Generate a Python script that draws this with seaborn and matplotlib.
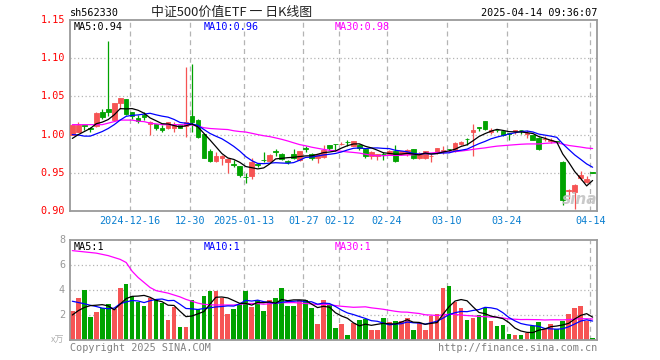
import numpy as np
import pandas as pd
import matplotlib
matplotlib.use("Agg")
import matplotlib.pyplot as plt
import seaborn as sns

# ---------------- data ----------------
holidays = ["2025-01-01", "2025-01-28", "2025-01-29", "2025-01-30", "2025-01-31",
            "2025-02-03", "2025-02-04", "2025-04-04"]
dates = [d for d in pd.bdate_range("2024-12-02", "2025-04-14")
         if d.strftime("%Y-%m-%d") not in holidays]

open_ = [1.000, 1.004, 1.012, 1.008, 1.011, 1.029, 1.033, 1.019, 1.0417, 1.046,
         1.030, 1.0215, 1.026, 1.0136, 1.0136, 1.0083, 1.0083, 1.009, 1.0127, 1.0118,
         1.025, 1.0197, 1.0013, 0.979, 0.966, 0.969, 0.9636, 0.961, 0.959, 0.945,
         0.946, 0.962, 0.967, 0.966, 0.978, 0.975, 0.965, 0.974, 0.967, 0.982,
         0.975, 0.969, 0.971, 0.9864, 0.988, 0.9875, 0.9905, 0.9855, 0.986, 0.981,
         0.9715, 0.972, 0.9745, 0.974, 0.978, 0.974, 0.975, 0.981, 0.969, 0.969,
         0.9715, 0.976, 0.979, 0.9815, 0.978, 0.988, 0.9945, 1.003, 1.0095, 1.018,
         1.004, 1.0066, 1.005, 1.0015, 1.005, 1.006, 1.001, 0.9996, 0.996, 0.994,
         0.992, 0.991, 0.9645, 0.926, 0.925, 0.943, 0.938, 0.9505]
high = [1.013, 1.017, 1.012, 1.010, 1.030, 1.033, 1.123, 1.042, 1.048, 1.047,
        1.030, 1.026, 1.030, 1.018, 1.0136, 1.0127, 1.017, 1.016, 1.013, 1.089,
        1.093, 1.020, 1.0013, 0.981, 0.9776, 0.973, 0.970, 0.967, 0.959, 0.9496,
        0.969, 0.963, 0.9776, 0.974, 0.9805, 0.976, 0.967, 0.981, 0.979, 0.985,
        0.976, 0.975, 0.987, 0.987, 0.988, 0.990, 0.993, 0.991, 0.988, 0.982,
        0.978, 0.975, 0.9776, 0.980, 0.987, 0.979, 0.981, 0.981, 0.977, 0.9785,
        0.974, 0.983, 0.9855, 0.9815, 0.990, 0.992, 0.995, 1.0136, 1.0095, 1.018,
        1.008, 1.0066, 1.005, 1.0015, 1.006, 1.006, 1.0057, 1.000, 0.997, 0.998,
        0.996, 0.991, 0.965, 0.9286, 0.935, 0.952, 0.946, 0.9505]
low = [0.999, 1.003, 1.0057, 1.003, 1.010, 1.0207, 1.025, 1.018, 1.033, 1.026,
       1.0207, 1.0154, 1.0197, 0.9996, 1.0066, 1.003, 1.007, 1.003, 1.008, 0.997,
       1.004, 0.9955, 0.969, 0.964, 0.964, 0.960, 0.9496, 0.9575, 0.944, 0.937,
       0.9425, 0.958, 0.9636, 0.965, 0.9725, 0.967, 0.962, 0.968, 0.9655, 0.9776,
       0.9667, 0.9628, 0.969, 0.980, 0.979, 0.986, 0.9855, 0.985, 0.980, 0.970,
       0.968, 0.967, 0.967, 0.973, 0.964, 0.973, 0.9715, 0.968, 0.968, 0.968,
       0.9636, 0.975, 0.975, 0.979, 0.977, 0.986, 0.987, 0.9715, 1.0052, 1.006,
       1.001, 1.003, 0.998, 0.993, 1.001, 1.001, 0.995, 0.993, 0.980, 0.991,
       0.989, 0.989, 0.908, 0.9154, 0.903, 0.940, 0.937, 0.9495]
close = [1.0127, 1.012, 1.011, 1.007, 1.0285, 1.023, 1.029, 1.0417, 1.0478, 1.0267,
         1.025, 1.018, 1.0224, 1.017, 1.0083, 1.0057, 1.016, 1.012, 1.0083, 1.016,
         1.017, 0.997, 0.9697, 0.966, 0.9715, 0.972, 0.968, 0.960, 0.947, 0.944,
         0.9645, 0.960, 0.9665, 0.973, 0.977, 0.968, 0.9645, 0.969, 0.978, 0.981,
         0.969, 0.974, 0.980, 0.982, 0.9875, 0.988, 0.990, 0.991, 0.983, 0.9715,
         0.9776, 0.975, 0.974, 0.979, 0.966, 0.9785, 0.980, 0.969, 0.974, 0.978,
         0.972, 0.983, 0.9795, 0.981, 0.989, 0.990, 0.994, 1.0057, 1.009, 1.0075,
         1.006, 1.006, 0.999, 1.001, 1.0057, 1.0055, 1.0015, 0.9934, 0.981, 0.9945,
         0.9925, 0.9905, 0.9145, 0.927, 0.934, 0.947, 0.9417, 0.950]
volume = [2.36, 3.39, 4.03, 1.88, 2.26, 2.58, 2.9, 2.47, 4.14, 4.46,
          3.49, 3.01, 2.74, 3.39, 3.23, 2.96, 1.61, 2.63, 1.07, 1.07,
          3.23, 2.47, 3.55, 3.95, 3.9, 3.33, 2.1, 2.47, 2.85, 3.9,
          2.63, 3.2, 2.36, 3.2, 3.33, 4.14, 2.69, 2.69, 3.2, 3.2,
          2.58, 1.29, 3.2, 2.85, 0.97, 1.29, 0.38, 1.4, 1.61, 1.67,
          0.8, 0.8, 1.77, 1.45, 1.56, 1.56, 1.77, 0.8, 1.34, 0.8,
          1.94, 2.1, 4.19, 4.3, 3.06, 2.53, 1.61, 1.77, 2.04, 2.58,
          1.56, 1.13, 1.24, 0.48, 0.38, 0.38, 0.59, 1.13, 1.45, 0.86,
          1.29, 0.86, 1.56, 2.1, 2.58, 2.74, 1.56, 0.16]

# moving-average values at the start of the window (read from the chart,
# they depend on days before the first candle)
ma5_head = [0.995, 1.000, 1.004, 1.008]
ma10_head = [1.000, 0.9995, 0.998, 0.998, 1.001, 1.004, 1.008, 1.013, 1.019]
ma30_head = [1.013, 1.013, 1.013, 1.013, 1.013, 1.013, 1.015, 1.017, 1.019, 1.019,
             1.019, 1.0175, 1.017, 1.015, 1.014, 1.013, 1.013, 1.013, 1.013, 1.0127,
             1.0125, 1.011, 1.009, 1.008, 1.0075, 1.007, 1.0066, 1.005, 1.004]
vma5_head = [2.0, 2.35, 2.6, 2.75]
vma10_head = [3.1, 3.0, 2.9, 2.78, 2.68, 2.55, 2.5, 2.55, 2.9]
vma30_head = [7.15, 7.1, 7.05, 7.0, 6.95, 6.85, 6.75, 6.6, 6.45, 6.2,
              5.5, 5.0, 4.6, 4.2, 3.95, 3.85, 3.75, 3.6, 3.45, 3.25,
              3.1, 2.95, 2.85, 2.82, 2.8, 2.8, 2.8, 2.8, 2.85]

tick_dates = ["2024-12-16", "2024-12-30", "2025-01-13", "2025-01-27", "2025-02-12",
              "2025-02-24", "2025-03-10", "2025-03-24", "2025-04-14"]
tick_labels = ["2024-12-16", "12-30", "2025-01-13", "01-27", "02-12",
               "02-24", "03-10", "03-24", "04-14"]
price_ticks = [0.90, 0.95, 1.00, 1.05, 1.10, 1.15]
vol_ticks = [2, 4, 6, 8]

title = "中证500价值ETF 一 日K线图"
code = "sh562330"
stamp = "2025-04-14 09:36:07"
ma_price_labels = ["MA5:0.94", "MA10:0.96", "MA30:0.98"]
ma_vol_labels = ["MA5:1", "MA10:1", "MA30:1"]

# ---------------- build ----------------
def moving(vals, n, head):
    m = pd.Series(vals).rolling(n).mean().to_numpy()
    m[:n - 1] = head
    return m

df = pd.DataFrame({"date": dates, "open": open_, "high": high, "low": low,
                   "close": close, "volume": volume})
df["x"] = np.arange(len(df))
df["up"] = df["close"] >= df["open"]
df["ma5"] = moving(df["close"], 5, ma5_head)
df["ma10"] = moving(df["close"], 10, ma10_head)
df["ma30"] = moving(df["close"], 30, ma30_head)
df["vma5"] = moving(df["volume"], 5, vma5_head)
df["vma10"] = moving(df["volume"], 10, vma10_head)
df["vma30"] = moving(df["volume"], 30, vma30_head)

RED = "#f65454"
GREEN = "#00a300"
GRID = "#b4b4b4"
FRAME = "#9a9a9a"
BLUE_T = "#0a7fd0"

sns.set_theme(style="white")
plt.rcParams["font.family"] = ["DejaVu Sans Mono", "Noto Sans CJK SC"]

W, H = 660, 360
fig = plt.figure(figsize=(W / 100, H / 100), dpi=100)
fig.patch.set_facecolor("white")

L, R = 70, 597
ax = fig.add_axes([L / W, 1 - 211 / H, (R - L) / W, (211 - 20) / H])
axv = fig.add_axes([L / W, 1 - 340 / H, (R - L) / W, (340 - 240) / H])

xlim = (-0.39, 87.73)
tick_idx = [int(np.where(df["date"] == pd.Timestamp(d))[0][0]) for d in tick_dates]
grid_x = [i - 0.37 for i in tick_idx]

# grids
for a, hs in ((ax, [0.95, 1.00, 1.05, 1.10]), (axv, [2, 4, 6])):
    for h in hs:
        a.axhline(h, color=GRID, lw=0.9, ls=(0, (1, 2)), zorder=0)
    for gx in grid_x:
        a.axvline(gx, color=GRID, lw=0.9, ls=(0, (4, 3)), zorder=0)

# candles
cols = np.where(df["up"], RED, GREEN)
ax.vlines(df["x"], df["low"], df["high"], colors=cols, lw=0.9, zorder=2)
bottom = np.minimum(df["open"], df["close"])
height = np.abs(df["close"] - df["open"])
ax.bar(df["x"], height, bottom=bottom, width=0.78, color=cols, edgecolor=cols,
       linewidth=0.6, zorder=3)

# price MAs
for col, c in (("ma30", "#ff00ff"), ("ma10", "#0000ff"), ("ma5", "black")):
    sns.lineplot(data=df, x="x", y=col, ax=ax, color=c, lw=0.9, zorder=4,
                 estimator=None)

# volume bars
sns.barplot(data=df, x="x", y="volume", color=GREEN, width=0.78,
            saturation=1, errorbar=None, ax=axv, zorder=2, linewidth=0)
for patch, c in zip(axv.patches, cols):
    patch.set_facecolor(c)
    patch.set_edgecolor(c)
    patch.set_linewidth(0)
for col, c in (("vma30", "#ff00ff"), ("vma10", "#0000ff"), ("vma5", "black")):
    sns.lineplot(data=df, x="x", y=col, ax=axv, color=c, lw=0.9, zorder=4,
                 estimator=None)

ax.set_xlim(*xlim)
axv.set_xlim(*xlim)
ax.set_ylim(0.90, 1.15)
axv.set_ylim(0, 8)

for a in (ax, axv):
    a.set_xlabel("")
    a.set_ylabel("")
    a.set_xticks([])
    a.set_yticks([])
    a.set_facecolor("white")
    for s in a.spines.values():
        s.set_color(FRAME)
        s.set_linewidth(1.3)
        s.set_visible(True)

# ---------------- texts (figure pixel coordinates) ----------------
def ftext(x, y, s, **kw):
    fig.text(x / W, 1 - y / H, s, **kw)

fs = 7.3
def price_to_y(p):
    return 211 - (p - 0.90) / 0.25 * 191

for p in price_ticks:
    ftext(65, price_to_y(p), f"{p:.2f}", ha="right", va="center", color="#ff0000",
          fontsize=fs)
for v in vol_ticks:
    ftext(65, 340 - v / 8 * 100, str(v), ha="right", va="center", color="#999999",
          fontsize=fs)
ftext(64, 340, "x万", ha="right", va="center", color="#b0b0b0", fontsize=6.5,
      family=["Noto Sans CJK SC", "DejaVu Sans"])

px_per_idx = (R - L) / (xlim[1] - xlim[0])
for gx, lab in zip(grid_x, tick_labels):
    xp = L + (gx - xlim[0]) * px_per_idx
    ftext(xp, 221, lab, ha="center", va="center", color=BLUE_T, fontsize=fs)

ftext(70, 13.5, code, ha="left", va="center", color="black", fontsize=fs)
ftext(597, 13.5, stamp, ha="right", va="center", color="black", fontsize=fs)
ftext(151, 12.5, title, ha="left", va="center", color="#222222", fontsize=9.3,
      family=["Noto Sans CJK SC", "DejaVu Sans"])

ma_cols = ["black", "#0000ff", "#ff00ff"]
ma_x = [74, 204, 335]
for xpos, lab, c in zip(ma_x, ma_price_labels, ma_cols):
    ftext(xpos, 26.5, lab, ha="left", va="center", color=c, fontsize=fs)
for xpos, lab, c in zip(ma_x, ma_vol_labels, ma_cols):
    ftext(xpos, 246.5, lab, ha="left", va="center", color=c, fontsize=fs)

ftext(70, 348, "Copyright 2025 SINA.COM", ha="left", va="center", color="#808080",
      fontsize=fs)
ftext(597, 348, "http://finance.sina.com.cn", ha="right", va="center",
      color="#808080", fontsize=fs)

# sina watermark
ftext(580, 199, "sina", ha="center", va="center", color="#c4c4c4", fontsize=11,
      style="italic", weight="bold", family="DejaVu Sans", alpha=0.9)

fig.savefig("out.png", dpi=100)
